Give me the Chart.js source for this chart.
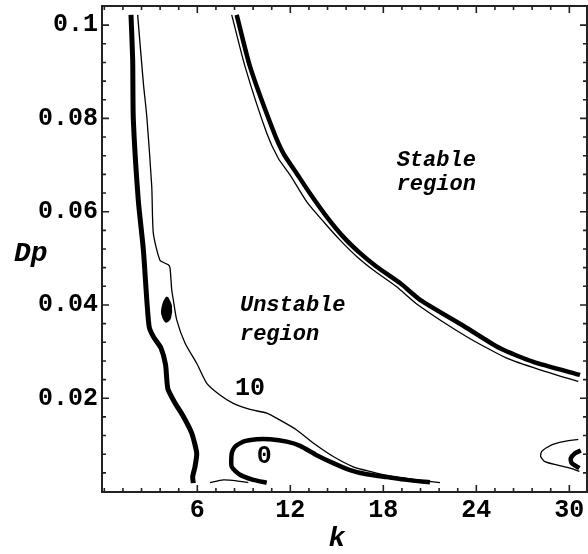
<!DOCTYPE html>
<html><head><meta charset="utf-8">
<script src="https://cdn.jsdelivr.net/npm/chart.js@4/dist/chart.umd.min.js"></script>
<style>html,body{margin:0;padding:0;background:#fff;}#wrap{width:588px;height:554px;}</style>
</head><body><div id="wrap"><canvas id="c" width="588" height="554"></canvas></div>
<script>
// ---- data (k, Dp) ----
const leftThickK  = [1.72,1.83,1.87,2.19,2.52,2.74,2.90,3.20,3.65,3.95,4.10,4.56,5.10,5.64,5.96,5.85,5.70,5.74];
const leftThickDp = [0.1022,0.0925,0.0799,0.0625,0.0518,0.0411,0.0352,0.0330,0.0308,0.0272,0.0220,0.0190,0.0161,0.0125,0.0082,0.0053,0.0032,0.0018];

const thin10K  = [2.15,2.52,2.74,3.06,3.16,3.59,4.13,4.24,4.35,4.45,4.67,5.21,5.96,6.61,7.46,8.32,9.40,10.48,11.34,12.41,13.48,14.77,16.06,17.14,18.43,19.94,21.66];
const thin10Dp = [0.1022,0.0875,0.0804,0.0654,0.0554,0.0496,0.0486,0.0479,0.0432,0.0411,0.0368,0.0318,0.0275,0.0232,0.0207,0.0189,0.0176,0.0168,0.0153,0.0132,0.0104,0.0075,0.0053,0.0043,0.0033,0.0026,0.0019];

const loopK  = [10.48,9.61,8.75,8.22,8.22,8.43,8.97,9.83,10.69,11.77,12.63,13.70,14.77,15.85,16.93,18.22,19.51,21.01];
const loopDp = [0.0019,0.0025,0.0036,0.0053,0.0082,0.0096,0.0107,0.0112,0.0112,0.0107,0.0098,0.0078,0.0061,0.0046,0.0037,0.0031,0.0025,0.0020];

const bottomThinK  = [6.82,7.68,8.54,9.29];
const bottomThinDp = [0.0019,0.0025,0.0023,0.0019];

const upperThickK  = [8.54,9.40,10.88,11.55,12.41,13.27,14.35,15.42,16.50,17.57,19.08,20.37,23.08,25.53,27.68,30.69];
const upperThickDp = [0.1022,0.0911,0.0775,0.0725,0.0682,0.0639,0.0589,0.0546,0.0511,0.0482,0.0447,0.0411,0.0357,0.0307,0.0278,0.0250];

const upperThinK  = [8.22,9.08,10.48,11.23,11.98,13.06,14.13,15.21,16.28,17.35,18.86,20.24,23.38,25.96,28.11,30.58];
const upperThinDp = [0.1022,0.0911,0.0768,0.0714,0.0679,0.0621,0.0579,0.0539,0.0504,0.0475,0.0439,0.0400,0.0332,0.0286,0.0261,0.0236];

const blobK  = [4.05,4.30,4.24,3.98,3.72,3.85,4.05];
const blobDp = [0.0417,0.0398,0.0372,0.0364,0.0383,0.0406,0.0417];

const rightThinK  = [30.58,29.61,28.86,28.22,28.15,28.43,29.19,30.05,30.65];
const rightThinDp = [0.0112,0.0107,0.0100,0.0086,0.0075,0.0064,0.0057,0.0050,0.0043];

const rightThickK  = [30.74,30.37,30.09,30.15,30.65];
const rightThickDp = [0.0088,0.0082,0.0071,0.0061,0.0050];

// ---- ticks ----
const xTickValues = [6,12,18,24,30];
const xTickLabels = ['6','12','18','24','30'];
const yTickValues = [0.02,0.04,0.06,0.08,0.1];
const yTickLabels = ['0.02','0.04','0.06','0.08','0.1'];

// ---- text labels ----
const textLabels = [
  {text:'Stable', k:18.86, dp:0.0698, font:'italic bold 22px "Liberation Mono"'},
  {text:'region', k:18.86, dp:0.0647, font:'italic bold 22px "Liberation Mono"'},
  {text:'Unstable', k:8.75, dp:0.0386, font:'italic bold 22px "Liberation Mono"'},
  {text:'region', k:8.75, dp:0.0325, font:'italic bold 22px "Liberation Mono"'},
  {text:'10', k:8.43, dp:0.0207, font:'bold 25px "Liberation Mono"'},
  {text:'0', k:9.83, dp:0.0062, font:'bold 25px "Liberation Mono"'}
];

function pts(ks, ds){ return ks.map((k,i)=>({x:k, y:ds[i]})); }
const THICK = 4.5, THIN = 1.3;
function line(ks, ds, w, extra){
  return Object.assign({data:pts(ks,ds), showLine:true, borderColor:'#000', backgroundColor:'#000',
    borderWidth:w, pointRadius:0, tension:0.2, fill:false, borderJoinStyle:'round'}, extra||{});
}

const datasets = [
  line(leftThickK, leftThickDp, 5),
  line(thin10K, thin10Dp, THIN),
  line(loopK, loopDp, THICK),
  line(bottomThinK, bottomThinDp, THIN),
  line(upperThickK, upperThickDp, THICK),
  line(upperThinK, upperThinDp, THIN),
  line(blobK, blobDp, 2, {fill:'shape', tension:0.3}),
  line(rightThinK, rightThinDp, THIN),
  line(rightThickK, rightThickDp, THICK)
];

function minorTicks(majors){
  const step = (majors[1]-majors[0])/5;
  const out = [];
  for (let i=0;i<=5*majors.length;i++) out.push({value: +(i*step).toFixed(6)});
  return out;
}
function isMajor(v, majors){ return majors.some(m=>Math.abs(m-v)<1e-6); }

const kTitleAt = 15.0;
const framePlugin = {
  id:'frame',
  afterDraw(chart){
    const {ctx, chartArea:a, scales:{x,y}} = chart;
    ctx.save();
    ctx.strokeStyle='#222';
    ctx.lineWidth=2;
    ctx.strokeRect(a.left, a.top, a.right-a.left, a.bottom-a.top);
    ctx.lineWidth=1.6;
    ctx.beginPath();
    x.ticks.forEach(t=>{
      const px = x.getPixelForValue(t.value);
      if (px<=a.left+1 || px>=a.right-1) return;
      const L = isMajor(t.value, xTickValues)?7:4;
      ctx.moveTo(px, a.bottom); ctx.lineTo(px, a.bottom-L);
      ctx.moveTo(px, a.top); ctx.lineTo(px, a.top+L);
    });
    y.ticks.forEach(t=>{
      const py = y.getPixelForValue(t.value);
      if (py<=a.top+1 || py>=a.bottom-1) return;
      const L = isMajor(t.value, yTickValues)?7:4;
      ctx.moveTo(a.left, py); ctx.lineTo(a.left+L, py);
      ctx.moveTo(a.right, py); ctx.lineTo(a.right-L, py);
    });
    ctx.stroke();
    ctx.fillStyle='#000';
    ctx.textAlign='left';
    ctx.textBaseline='alphabetic';
    textLabels.forEach(l=>{
      ctx.font = l.font;
      ctx.fillText(l.text, x.getPixelForValue(l.k), y.getPixelForValue(l.dp));
    });
    ctx.font='italic bold 28px "Liberation Mono"';
    ctx.fillText('Dp', 14, 261);
    ctx.textAlign='center';
    ctx.fillText('k', x.getPixelForValue(kTitleAt), 546);
    ctx.restore();
  }
};

new Chart(document.getElementById('c'), {
  type:'scatter',
  data:{datasets},
  options:{
    responsive:false, animation:false, devicePixelRatio:1,
    layout:{padding:{top:6,right:1,left:0,bottom:0}},
    plugins:{legend:{display:false}, tooltip:{enabled:false}},
    scales:{
      x:{type:'linear', min:-0.15, max:31.14,
        grid:{display:false, drawTicks:false}, border:{display:false},
        afterBuildTicks:(s)=>{ s.ticks = minorTicks(xTickValues); },
        afterFit:(s)=>{ s.height = 62; s.paddingLeft = 0; s.paddingRight = 0; s.paddingTop = 0; s.paddingBottom = 0; },
        ticks:{autoSkip:false, maxRotation:0, padding:4, color:'#000',
          font:{family:'Liberation Mono', size:25, weight:'bold'},
          callback:(v)=>{ const i=xTickValues.findIndex(m=>Math.abs(m-v)<1e-6); return i>=0?xTickLabels[i]:''; }}
      },
      y:{type:'linear', min:-0.0001, max:0.1041,
        grid:{display:false, drawTicks:false}, border:{display:false},
        afterBuildTicks:(s)=>{ s.ticks = minorTicks(yTickValues); },
        afterFit:(s)=>{ s.width = 102; s.paddingTop = 0; s.paddingBottom = 0; s.paddingLeft = 0; s.paddingRight = 0; },
        ticks:{autoSkip:false, padding:4, color:'#000',
          font:{family:'Liberation Mono', size:25, weight:'bold'},
          callback:(v)=>{ const i=yTickValues.findIndex(m=>Math.abs(m-v)<1e-6); return i>=0?yTickLabels[i]:''; }}
      }
    }
  },
  plugins:[framePlugin]
});
</script></body></html>
